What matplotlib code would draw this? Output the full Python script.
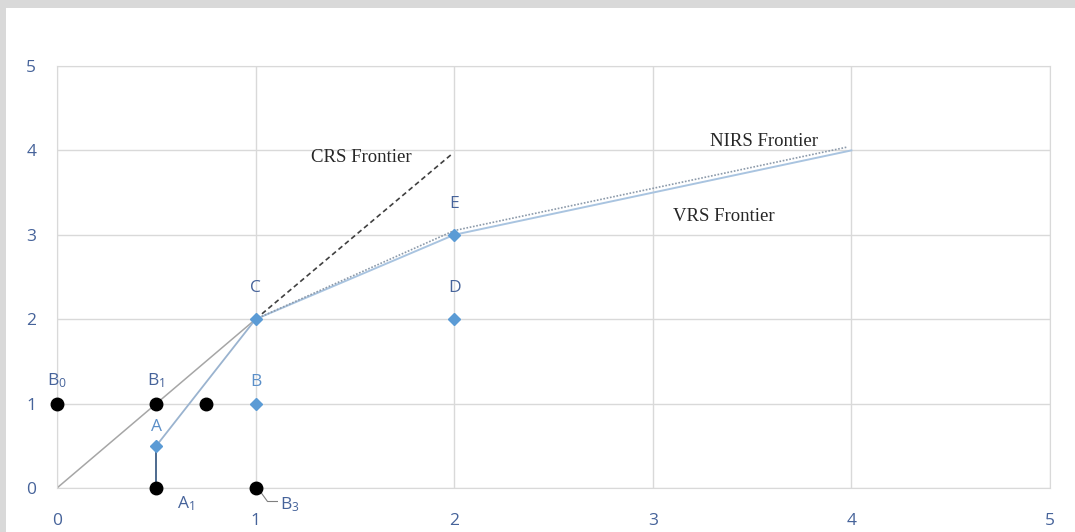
import matplotlib.pyplot as plt
from matplotlib.patches import Rectangle

plt.rcParams['mathtext.default'] = 'regular'

# points
dmu_x = [0.5, 1, 1, 2, 2]
dmu_y = [0.5, 1, 2, 2, 3]
dmu_names = ['A', 'B', 'C', 'D', 'E']

proj_x = [0, 0.5, 0.75, 0.5, 1]
proj_y = [1, 1, 1, 0, 0]

# frontiers
crs_x = [1, 1.99]
crs_y = [2, 3.96]
ray_x = [0, 1]
ray_y = [0, 2]
ac_x = [0.5, 1]
ac_y = [0.5, 2]
vrs_x = [1, 2, 4]
vrs_y = [2, 3, 4]
nirs_x = [1, 2, 3.98]
nirs_y = [2, 3.05, 4.04]

ticks = [0, 1, 2, 3, 4, 5]

lab_col = '#46639a'
grid_col = '#d9d9d9'

fig = plt.figure(figsize=(10.75, 5.32), dpi=100)
fig.patch.set_facecolor('#d9d9d9')
fig.patches.append(Rectangle((6 / 1075, 0), 1, 1 - 8 / 532, transform=fig.transFigure,
                             facecolor='white', edgecolor='none', zorder=-10))

ax = fig.add_axes([57 / 1075, 1 - 488 / 532, (1050 - 57) / 1075, (488 - 66) / 532])
ax.set_zorder(5)
ax.set_facecolor('none')
ax.set_xlim(0, 5)
ax.set_ylim(0, 5)
ax.set_xticks(ticks)
ax.set_yticks(ticks)
ax.grid(True, color=grid_col, lw=1)
for s in ax.spines.values():
    s.set_color(grid_col)
ax.tick_params(length=0, labelsize=12.5, labelcolor=lab_col)
ax.tick_params(axis='x', pad=18)
ax.tick_params(axis='y', pad=15)
for t in ax.get_xticklabels() + ax.get_yticklabels():
    t.set_family('Open Sans')

# lines
ax.plot(ray_x, ray_y, color='#a6a6a6', lw=1.1, zorder=2)
ax.plot(ac_x, ac_y, color='#9ab3cf', lw=1.3, zorder=2)
ax.plot([0.5, 0.5], [0.5, 0], color='#3f5f86', lw=1.3, zorder=2)
ax.plot(crs_x, crs_y, color='#404040', lw=1.2, ls=(0, (3, 2)), zorder=2)
ax.plot(vrs_x, vrs_y, color='#a9c4e0', lw=1.4, zorder=2)
ax.plot(nirs_x, nirs_y, color='#8c9aaa', lw=1.2, ls=(0, (1, 1)), zorder=2)

# markers
ax.plot(dmu_x, dmu_y, ls='none', marker='D', ms=6.5, color='#5b9bd5', zorder=4, clip_on=False)
ax.plot(proj_x, proj_y, ls='none', marker='o', ms=9, color='black', zorder=4, clip_on=False)

# labels
font = dict(family='Open Sans', fontsize=12.5, color=lab_col, ha='center', va='center')
light = dict(font, color='#5b8fc8')
ax.text(1, 2.37, 'C', **font)
ax.text(2, 2.37, 'D', **font)
ax.text(2, 3.37, 'E', **font)
ax.text(1, 1.25, 'B', **light)
ax.text(0.5, 0.72, 'A', **light)
ax.text(0, 1.27, 'B$_0$', **font)
ax.text(0.5, 1.27, 'B$_1$', **font)
ax.text(0.65, -0.18, 'A$_1$', clip_on=False, **font)
ax.text(1.17, -0.2, 'B$_3$', clip_on=False, **font)
ax.plot([1.02, 1.06, 1.11], [-0.03, -0.16, -0.16], color='#7f7f7f', lw=0.8, clip_on=False)

serif = dict(family='Liberation Serif', fontsize=13.5, color='#262626', ha='center', va='center')
ax.text(1.53, 3.91, 'CRS Frontier', **serif)
ax.text(3.56, 4.1, 'NIRS Frontier', **serif)
ax.text(3.36, 3.22, 'VRS Frontier', **serif)

plt.savefig('out.png', dpi=100)
